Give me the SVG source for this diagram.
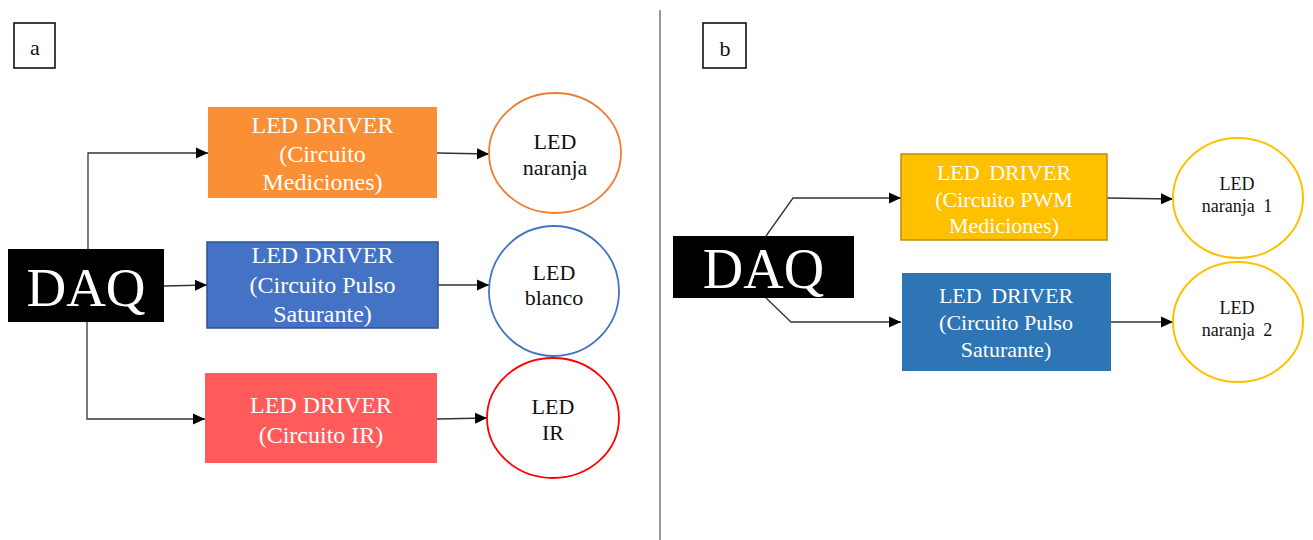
<svg xmlns="http://www.w3.org/2000/svg" width="1313" height="540" viewBox="0 0 1313 540">
  <style>
    text { font-family: "Liberation Serif", "Times New Roman", serif; text-anchor: middle; }
    .wt { fill: #ffffff; font-size: 24px; }
    .wt2 { fill: #ffffff; font-size: 22px; }
    .bt { fill: #111111; font-size: 22px; }
    .st { fill: #111111; font-size: 18px; }
    .daq { fill: #ffffff; font-size: 55px; }
    .conn { fill: none; stroke: #333333; stroke-width: 1.3; }
    .tag { fill: #ffffff; stroke: #111111; stroke-width: 1.6; }
  </style>
  <defs>
    <marker id="arrow" markerUnits="userSpaceOnUse" markerWidth="12" markerHeight="12" refX="12" refY="6" orient="auto">
      <path d="M0,0.5 L12,6 L0,11.5 Z" fill="#000000"/>
    </marker>
  </defs>
  <rect width="1313" height="540" fill="#ffffff"/>

  <!-- panel divider -->
  <line x1="660" y1="10" x2="660" y2="540" stroke="#555555" stroke-width="1.2"/>

  <!-- panel tags -->
  <g id="tag-a">
    <rect class="tag" x="14" y="23" width="41" height="45"/>
    <text x="35" y="55" style="font-size:22px;fill:#111">a</text>
  </g>
  <g id="tag-b">
    <rect class="tag" x="703" y="23" width="43" height="45"/>
    <text x="725" y="56" style="font-size:22px;fill:#111">b</text>
  </g>

  <!-- connectors -->
  <g id="connectors">
    <polyline class="conn" points="88,249 88,153 208,153" marker-end="url(#arrow)"/>
    <line class="conn" x1="164" y1="286" x2="207" y2="285" marker-end="url(#arrow)"/>
    <polyline class="conn" points="87,322 87,419 205,419" marker-end="url(#arrow)"/>
    <line class="conn" x1="437" y1="153" x2="489" y2="154" marker-end="url(#arrow)"/>
    <line class="conn" x1="438" y1="285" x2="489" y2="285" marker-end="url(#arrow)"/>
    <line class="conn" x1="437" y1="419" x2="487" y2="418" marker-end="url(#arrow)"/>

    <polyline class="conn" points="766,236 793,198 901,198" marker-end="url(#arrow)"/>
    <polyline class="conn" points="766,298 791,322 901,322" marker-end="url(#arrow)"/>
    <line class="conn" x1="1107" y1="198" x2="1173" y2="199" marker-end="url(#arrow)"/>
    <line class="conn" x1="1111" y1="322" x2="1173" y2="322" marker-end="url(#arrow)"/>
  </g>

  <!-- panel a -->
  <g id="daq-a">
    <rect x="8" y="249" width="156" height="73" fill="#000000"/>
    <text class="daq" x="86" y="306">DAQ</text>
  </g>
  <g id="driver-medicion">
    <rect x="208" y="107" width="229" height="91" fill="#FA8F35"/>
    <text class="wt" x="322.5" y="133">LED DRIVER</text>
    <text class="wt" x="322.5" y="162">(Circuito</text>
    <text class="wt" x="322.5" y="190">Mediciones)</text>
  </g>
  <g id="driver-pulso">
    <rect x="207" y="242" width="231" height="86" fill="#4472C4" stroke="#2F528F" stroke-width="1.5"/>
    <text class="wt" x="322.5" y="263">LED DRIVER</text>
    <text class="wt" x="322.5" y="293">(Circuito Pulso</text>
    <text class="wt" x="322.5" y="322">Saturante)</text>
  </g>
  <g id="driver-ir">
    <rect x="205" y="373" width="232" height="90" fill="#FF5B5B"/>
    <text class="wt" x="321" y="413">LED DRIVER</text>
    <text class="wt" x="321" y="443">(Circuito IR)</text>
  </g>
  <g id="led-naranja">
    <ellipse cx="555" cy="153" rx="66" ry="60" fill="#ffffff" stroke="#ED7D31" stroke-width="1.8"/>
    <text class="bt" x="555" y="149">LED</text>
    <text class="bt" x="555" y="175">naranja</text>
  </g>
  <g id="led-blanco">
    <ellipse cx="554" cy="291" rx="65" ry="65" fill="#ffffff" stroke="#4472C4" stroke-width="1.8"/>
    <text class="bt" x="554" y="280">LED</text>
    <text class="bt" x="554" y="305">blanco</text>
  </g>
  <g id="led-ir">
    <ellipse cx="553" cy="418" rx="66" ry="60" fill="#ffffff" stroke="#FF0000" stroke-width="1.8"/>
    <text class="bt" x="553" y="414">LED</text>
    <text class="bt" x="553" y="440">IR</text>
  </g>

  <!-- panel b -->
  <g id="daq-b">
    <rect x="673" y="236" width="181" height="62" fill="#000000"/>
    <text class="daq" x="763.5" y="288" style="font-size:56px">DAQ</text>
  </g>
  <g id="driver-pwm">
    <rect x="901" y="154" width="206" height="86" fill="#FFC000" stroke="#BF9000" stroke-width="1.5"/>
    <text class="wt2" x="1004" y="180" word-spacing="4">LED DRIVER</text>
    <text class="wt2" x="1004" y="207">(Circuito PWM</text>
    <text class="wt2" x="1004" y="233">Mediciones)</text>
  </g>
  <g id="driver-pulso-b">
    <rect x="902" y="273" width="209" height="98" fill="#2E75B6"/>
    <text class="wt2" x="1006" y="303" word-spacing="4">LED DRIVER</text>
    <text class="wt2" x="1006" y="330">(Circuito Pulso</text>
    <text class="wt2" x="1006" y="357">Saturante)</text>
  </g>
  <g id="led-naranja-1">
    <ellipse cx="1238" cy="198" rx="65" ry="60" fill="#ffffff" stroke="#FFC000" stroke-width="2"/>
    <text class="st" x="1237" y="190">LED</text>
    <text class="st" x="1237" y="212" word-spacing="4">naranja 1</text>
  </g>
  <g id="led-naranja-2">
    <ellipse cx="1238" cy="322" rx="65" ry="60" fill="#ffffff" stroke="#FFC000" stroke-width="2"/>
    <text class="st" x="1237" y="314">LED</text>
    <text class="st" x="1237" y="336" word-spacing="4">naranja 2</text>
  </g>
</svg>
